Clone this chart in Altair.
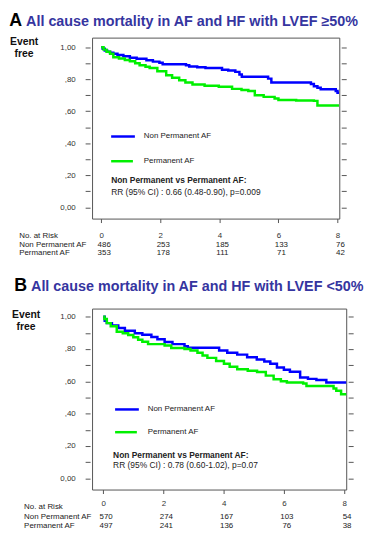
import altair as alt
import pandas as pd

FONT = "Liberation Sans"
BLUE = "#0000ff"
GREEN = "#00f000"
TITLE_BLUE = "#3535a0"
GROUPS = ["Non Permanent AF", "Permanent AF"]

# ---------------- Panel A (LVEF >= 50%) ----------------
a_np_t = [0, 0.05, 0.12, 0.2, 0.3, 0.41, 0.55, 0.75, 0.97, 1.2, 1.53, 1.75, 1.97, 2.08, 2.87,
          2.98, 3.25, 3.53, 4.09, 4.3, 4.54, 4.68, 4.76, 5.65, 5.76, 7.1, 7.2, 7.32, 7.43,
          7.94, 8.0, 8.05]
a_np_s = [1.0, 0.99, 0.98, 0.972, 0.965, 0.959, 0.952, 0.944, 0.934, 0.928, 0.918, 0.91, 0.903,
          0.893, 0.887, 0.88, 0.875, 0.87, 0.86, 0.855, 0.846, 0.83, 0.815, 0.804, 0.78, 0.77,
          0.757, 0.747, 0.737, 0.727, 0.716, 0.716]
a_p_t = [0, 0.08, 0.18, 0.3, 0.41, 0.6, 0.8, 0.97, 1.15, 1.3, 1.5, 1.64, 1.9, 2.2, 2.4, 2.64,
         2.85, 3.09, 3.5, 3.98, 4.43, 4.75, 4.98, 5.2, 5.5, 5.87, 6.0, 6.6, 7.2, 7.32, 8.05]
a_p_s = [1.0, 0.985, 0.972, 0.959, 0.938, 0.93, 0.92, 0.912, 0.9, 0.887, 0.878, 0.87, 0.85,
         0.825, 0.81, 0.794, 0.78, 0.767, 0.76, 0.753, 0.74, 0.733, 0.727, 0.70, 0.69, 0.68,
         0.67, 0.668, 0.665, 0.636, 0.636]
a_risk_np = [486, 253, 185, 133, 76]
a_risk_p = [353, 178, 111, 71, 42]

# ---------------- Panel B (LVEF < 50%) ----------------
b_np_t = [0, 0.05, 0.12, 0.29, 0.5, 0.72, 1.05, 1.3, 1.6, 1.8, 2.04, 2.3, 2.7, 2.81, 3.58,
          3.85, 4.12, 4.45, 4.78, 5.1, 5.35, 5.55, 5.77, 6.0, 6.2, 6.54, 6.8, 7.08, 7.41, 8.07]
b_np_s = [1.0, 0.975, 0.96, 0.945, 0.93, 0.913, 0.898, 0.888, 0.874, 0.86, 0.843, 0.83, 0.817,
          0.807, 0.807, 0.79, 0.776, 0.765, 0.749, 0.735, 0.722, 0.709, 0.686, 0.672, 0.659,
          0.624, 0.615, 0.608, 0.592, 0.592]
b_p_t = [0, 0.04, 0.12, 0.25, 0.45, 0.65, 0.83, 1.0, 1.16, 1.3, 1.49, 2.04, 2.26, 2.7, 2.9,
         3.13, 3.3, 3.46, 3.75, 4.01, 4.2, 4.45, 4.8, 5.11, 5.4, 5.66, 5.9, 6.1, 6.64, 6.75,
         7.52, 7.65, 7.74, 7.9, 8.07]
b_p_s = [1.0, 0.985, 0.96, 0.94, 0.907, 0.897, 0.887, 0.872, 0.857, 0.845, 0.83, 0.822, 0.806,
         0.80, 0.79, 0.776, 0.76, 0.745, 0.725, 0.709, 0.69, 0.674, 0.665, 0.657, 0.635, 0.613,
         0.60, 0.592, 0.586, 0.571, 0.571, 0.556, 0.541, 0.52, 0.52]
b_risk_np = [570, 274, 167, 103, 54]
b_risk_p = [497, 241, 136, 76, 38]

risk_times = [0, 2, 4, 6, 8]
x_ticks = [0, 1, 2, 3, 4, 5, 6, 7, 8]
y_ticks = [0.0, 0.1, 0.2, 0.3, 0.4, 0.5, 0.6, 0.7, 0.8, 0.9, 1.0]

ONE = pd.DataFrame({"k": [0]})

Y_LABEL_EXPR = ("abs(datum.value - 1) < 0.001 ? '1,00' : (datum.value < 0.001 ? '0,00' : "
                "(round(datum.value * 10) % 2 === 0 ? ',' + round(datum.value * 100) : ''))")
X_LABEL_EXPR = "round(datum.value) % 2 === 0 ? datum.label : ''"


def txt(s, x, y, size=8, bold=False, color="#222222", align="left", baseline="middle"):
    return alt.Chart(ONE).mark_text(
        text=s, fontSize=size, fontWeight="bold" if bold else "normal", color=color,
        align=align, baseline=baseline, font=FONT,
    ).encode(x=alt.value(x), y=alt.value(y))


def swatch(color, x1, x2, y):
    return alt.Chart(ONE).mark_rule(color=color, strokeWidth=2.5).encode(
        x=alt.value(x1), x2=alt.value(x2), y=alt.value(y))


def panel(letter, title, np_t, np_s, p_t, p_s, risk_np, risk_p, stats, xdom, ydom, W, H, g):
    xs = alt.Scale(domain=xdom, nice=False, zero=False)
    ys = alt.Scale(domain=ydom, nice=False, zero=False)
    curves = pd.concat([
        pd.DataFrame({"t": np_t, "s": np_s, "group": GROUPS[0]}),
        pd.DataFrame({"t": p_t, "s": p_s, "group": GROUPS[1]}),
    ])
    x_axis = alt.Axis(
        values=x_ticks, labelExpr=X_LABEL_EXPR, tickSize=4,
        labelPadding=g["xpad"], title=None, domain=False, grid=False,
    )
    y_left = alt.Axis(
        values=y_ticks, labelExpr=Y_LABEL_EXPR, tickSize=5,
        offset=2, labelPadding=10, title=None, domain=False, grid=False,
    )
    y_right = alt.Axis(
        orient="right", values=y_ticks, labels=False, tickSize=5,
        offset=2, title=None, domain=False, grid=False,
    )
    lines = alt.Chart(curves).mark_line(interpolate="step-after", strokeWidth=2.5).encode(
        x=alt.X("t:Q", scale=xs, axis=x_axis),
        y=alt.Y("s:Q", scale=ys, axis=y_left),
        color=alt.Color("group:N", scale=alt.Scale(domain=GROUPS, range=[BLUE, GREEN]),
                        legend=None),
        order=alt.Order("t:Q"),
    )
    right = alt.Chart(pd.DataFrame({"s": list(ydom)})).mark_point(opacity=0).encode(
        y=alt.Y("s:Q", scale=ys, axis=y_right))

    risk_layers = []
    for vals, yy in ((risk_np, g["row_np"]), (risk_p, g["row_p"])):
        df = pd.DataFrame({"t": risk_times, "n": [str(v) for v in vals]})
        risk_layers.append(
            alt.Chart(df).mark_text(fontSize=8, font=FONT, color="#222222", dx=3,
                                    baseline="middle").encode(
                x=alt.X("t:Q", scale=xs), y=alt.value(yy), text="n:N"))

    L = g["left"]
    texts = [
        txt(letter, L, g["title_y"], size=18, bold=True, color="#000000", baseline="alphabetic"),
        txt(title, L + 17, g["title_y"], size=14.5, bold=True, color=TITLE_BLUE,
            baseline="alphabetic"),
        txt("Event", L + g["evx"], g["ev_y"], size=10.5, bold=True, color="#111111",
            align="center", baseline="alphabetic"),
        txt("free", L + g["evx"], g["ev_y"] + 12, size=10.5, bold=True, color="#111111",
            align="center", baseline="alphabetic"),
        swatch(BLUE, g["lx"], g["lx"] + 24, g["leg1"]),
        swatch(GREEN, g["lx"], g["lx"] + 22, g["leg2"]),
        txt(GROUPS[0], g["lx"] + 33, g["leg1"], size=8),
        txt(GROUPS[1], g["lx"] + 33, g["leg2"], size=8),
        txt("Non Permanent vs Permanent AF:", g["sx"], g["st1"], size=8.5, bold=True),
        txt(stats, g["sx"], g["st2"], size=8.5),
        txt("No. at Risk", L + 10, g["row_h"], size=8),
        txt("Non Permanent AF", L + 10, g["row_np"], size=8),
        txt("Permanent AF", L + 10, g["row_p"], size=8),
    ]
    return alt.layer(lines, right, *risk_layers, *texts).resolve_scale(
        y="independent").properties(width=W, height=H)


gA = dict(left=-83.7, title_y=-12, evx=15, ev_y=7.5, xpad=9, lx=19.3, leg1=100, leg2=125,
          sx=19.3, st1=144, st2=156, row_h=201, row_np=210, row_p=218)
gB = dict(left=-78.7, title_y=-18, evx=12, ev_y=10, xpad=6, lx=23.3, leg1=102, leg2=125,
          sx=21.3, st1=148, st2=158, row_h=201, row_np=211, row_p=220)

chartA = panel("A", "All cause mortality in AF and HF with LVEF \u226550%", a_np_t, a_np_s,
               a_p_t, a_p_s, a_risk_np, a_risk_p,
               "RR (95% CI) : 0.66 (0.48-0.90), p=0.009",
               [-0.31, 8.06], [-0.07, 1.06], 250, 183, gA)
chartB = panel("B", "All cause mortality in AF and HF with LVEF <50%", b_np_t, b_np_s,
               b_p_t, b_p_s, b_risk_np, b_risk_p,
               "RR (95% CI) : 0.78 (0.60-1.02), p=0.07",
               [-0.37, 8.07], [-0.07, 1.05], 257, 183, gB)

chart = alt.vconcat(chartA, chartB, spacing=18).properties(padding=0).configure_view(
    stroke="#555555", strokeWidth=1
).configure_axis(
    labelFont=FONT, labelFontSize=8, labelColor="#333333", tickColor="#555555",
    domain=False, grid=False,
)

chart.save("out.html", embed_options={"renderer": "svg", "actions": False})
